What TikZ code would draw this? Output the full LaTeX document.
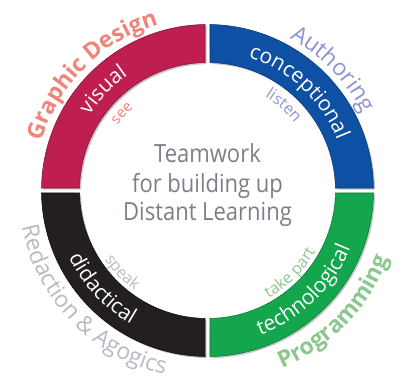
\documentclass[tikz,border=0pt]{standalone}
\usepackage{fontspec}
\setmainfont{Open Sans}
\newfontfamily\centerfont[FakeStretch=0.88]{Open Sans}
\usetikzlibrary{decorations.text}
\definecolor{segred}{HTML}{BE1F50}
\definecolor{segredd}{HTML}{8A1238}
\definecolor{segblue}{HTML}{0E50A4}
\definecolor{segblued}{HTML}{0A3878}
\definecolor{segblack}{HTML}{231F20}
\definecolor{segblackd}{HTML}{111111}
\definecolor{seggreen}{HTML}{14A64C}
\definecolor{seggreend}{HTML}{0B7A35}
\definecolor{shadowgray}{HTML}{C4C6C8}
\definecolor{gdcol}{HTML}{F0837A}
\definecolor{aucol}{HTML}{8E92D2}
\definecolor{racol}{HTML}{B6BAC2}
\definecolor{prcol}{HTML}{8CC88E}
\definecolor{centergray}{HTML}{7B8087}
\newcommand\ringseg[1]{(#1+1.12:128) -- (#1+0.86:166) arc[start angle=#1+0.86, end angle=#1+89.14, radius=166] -- (#1+88.88:128) arc[start angle=#1+88.88, end angle=#1+1.12, radius=128] -- cycle}
\newcommand\fs[1]{\fontsize{#1}{#1}\selectfont}
\tikzset{
  segshadow/.style={fill=shadowgray, shift={(1.6,-1.6)}},
  segbox/.style={line width=0.6pt},
  centertext/.style={text=centergray, font=\centerfont\fs{25}, anchor=base, inner sep=0pt}
}
\begin{document}
\begin{tikzpicture}[x=1pt,y=1pt]
\useasboundingbox (0,0) rectangle (404,381);
\coordinate (c) at (207.5,190.5);
\begin{scope}[shift={(c)}]
  % shadows
  \fill[segshadow] \ringseg{0};
  \fill[segshadow] \ringseg{90};
  \fill[segshadow] \ringseg{180};
  \fill[segshadow] \ringseg{270};
  % segments
  \filldraw[segbox, fill=segblue, draw=segblued] \ringseg{0};
  \filldraw[segbox, fill=segred, draw=segredd] \ringseg{90};
  \filldraw[segbox, fill=segblack, draw=segblackd] \ringseg{180};
  \filldraw[segbox, fill=seggreen, draw=seggreend] \ringseg{270};
  % top-left labels
  \path[decorate, decoration={text along path, text align=center,
    text={|\fs{23}\bfseries\color{gdcol}|Graphic Design}}]
    (179:173) arc[start angle=179, end angle=91, radius=173];
  \path[decorate, decoration={text along path, text align=center,
    text={|\fs{21}\color{white}|visual}}]
    (180:140) arc[start angle=180, end angle=92, radius=140];
  \path[decorate, decoration={text along path, text align=center,
    text={|\fs{15}\color{gdcol}|see}}]
    (182:111) arc[start angle=182, end angle=94, radius=111];
  % top-right labels
  \path[decorate, decoration={text along path, text align=center,
    text={|\fs{23}\color{aucol}|Authoring}}]
    (88:173) arc[start angle=88, end angle=0, radius=173];
  \path[decorate, decoration={text along path, text align=center,
    text={|\fs{21}\color{white}|conceptional}}]
    (91:139) arc[start angle=91, end angle=3, radius=139];
  \path[decorate, decoration={text along path, text align=center,
    text={|\fs{16}\color{aucol}|listen}}]
    (92:110) arc[start angle=92, end angle=4, radius=110];
  % bottom-left labels
  \path[decorate, decoration={text along path, text align=center,
    text={|\fs{23}\color{racol}|Redaction {\&} Agogics}}]
    (180:189) arc[start angle=180, end angle=268, radius=189];
  \path[decorate, decoration={text along path, text align=center,
    text={|\fs{21}\color{white}|didactical}}]
    (179:154) arc[start angle=179, end angle=267, radius=154];
  \path[decorate, decoration={text along path, text align=center,
    text={|\fs{16}\color{racol}|speak}}]
    (180:124) arc[start angle=180, end angle=268, radius=124];
  % bottom-right labels
  \path[decorate, decoration={text along path, text align=center,
    text={|\fs{23}\bfseries\color{prcol}|Programming}}]
    (272:193) arc[start angle=272, end angle=360, radius=193];
  \path[decorate, decoration={text along path, text align=center,
    text={|\fs{21}\color{white}|technological}}]
    (270:154) arc[start angle=270, end angle=358, radius=154];
  \path[decorate, decoration={text along path, text align=center,
    text={|\fs{16}\color{prcol}|take part}}]
    (271:124) arc[start angle=271, end angle=359, radius=124];
\end{scope}
\node[centertext] (t1) at (207.5,219) {Teamwork};
\node[centertext] (t2) at (207.5,189) {for building up};
\node[centertext] (t3) at (207.5,161) {Distant Learning};
\end{tikzpicture}
\end{document}
